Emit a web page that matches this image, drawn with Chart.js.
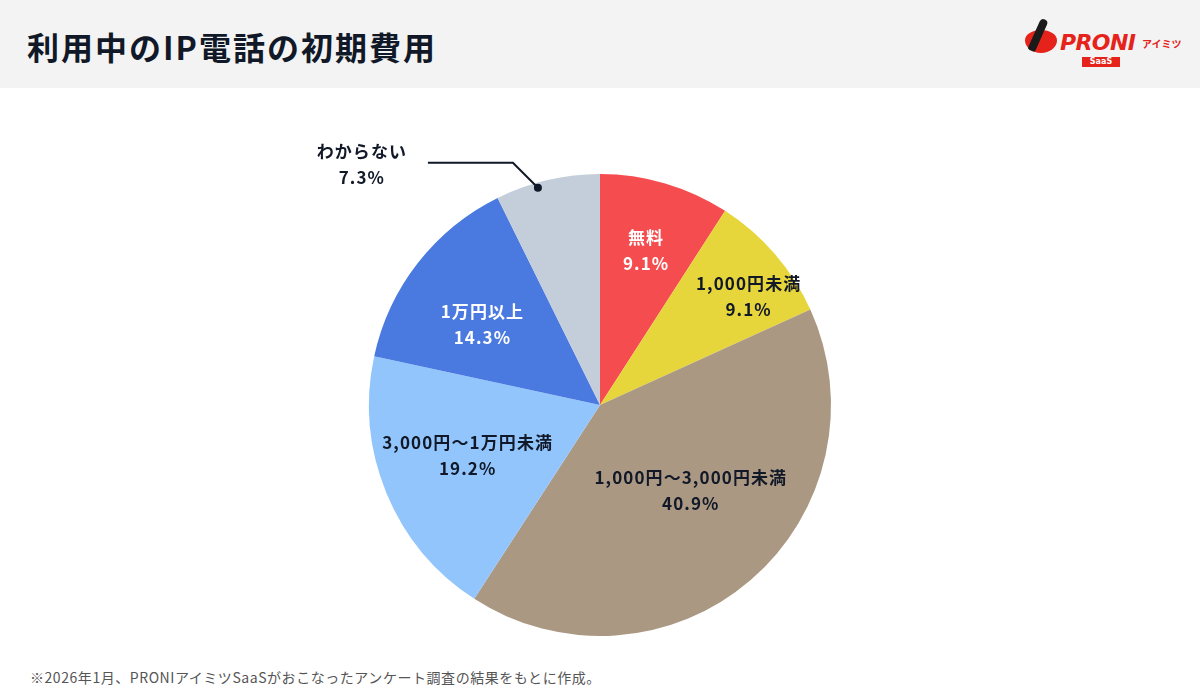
<!DOCTYPE html>
<html lang="ja">
<head>
<meta charset="UTF-8">
<title>利用中のIP電話の初期費用</title>
<script src="https://cdn.jsdelivr.net/npm/chart.js"></script>
<style>
  body { margin:0; width:1200px; height:700px; background:#fff; font-family:"Noto Sans CJK JP","Noto Sans",sans-serif; position:relative; overflow:hidden; }
  .header { position:absolute; left:0; top:0; width:1200px; height:88px; background:#f3f3f3; }
  .header h1 { position:absolute; left:27px; top:26px; margin:0; font-size:32px; line-height:40px; font-weight:700; color:#111827; letter-spacing:2px; white-space:nowrap; }
  .logo { position:absolute; left:1018px; top:18px; width:170px; height:52px; }
  .logo .icon { position:absolute; left:7px; top:12px; width:32px; height:23px; border-radius:50% 50% 50% 50% / 45% 45% 55% 55%; background:#e5231b; }
  .logo .bird { position:absolute; left:16px; top:0px; width:8px; height:34px; background:#1a1a1a; transform:rotate(24deg); border-radius:5px 5px 3px 3px; }
  .logo .proni { position:absolute; left:42px; top:14px; font-family:"DejaVu Sans",sans-serif; font-weight:700; font-style:italic; font-size:22px; color:#e5231b; letter-spacing:-0.6px; line-height:22px; white-space:nowrap; }
  .logo .aimitsu { position:absolute; left:124px; top:21px; font-size:10px; line-height:10px; font-weight:700; color:#e5231b; white-space:nowrap; }
  .logo .saas { position:absolute; left:64px; top:39px; width:38px; height:10px; background:#e5231b; color:#fff; font-family:"DejaVu Sans",sans-serif; font-size:8px; font-weight:700; text-align:center; line-height:10px; }
  .note { position:absolute; left:30px; top:667px; font-size:14px; letter-spacing:0.55px; color:#555; white-space:nowrap; }
  #wrap { position:absolute; left:0; top:0; width:1200px; height:700px; }
</style>
</head>
<body>
<div class="header">
  <h1>利用中のIP電話の初期費用</h1>
  <div class="logo">
    <div class="icon"></div>
    <div class="bird"></div>
    <div class="proni">PRONI</div>
    <div class="aimitsu">アイミツ</div>
    <div class="saas">SaaS</div>
  </div>
</div>
<div class="note">※2026年1月、PRONIアイミツSaaSがおこなったアンケート調査の結果をもとに作成。</div>
<div id="wrap"><canvas id="pie"></canvas></div>
<script>
const categories = ["無料", "1,000円未満", "1,000円〜3,000円未満", "3,000円〜1万円未満", "1万円以上", "わからない"]
const percents = [9.1, 9.1, 40.9, 19.2, 14.3, 7.3]
const colors = ["#f54d4f", "#e6d63c", "#ab9883", "#93c5fd", "#4a7ae0", "#c4ceda"]
const labelColors = ["#ffffff", "#111827", "#111827", "#111827", "#ffffff", "#111827"]
// label placement: fraction of radius and a small turn (degrees) off the slice middle
const labelRadius = [0.698, 0.796, 0.539, 0.613, 0.617, 0.978]
const labelTurn = [0.2, 4.75, -6.1, 1.6, -3.5, -2.8]
const outsideLabel = 5

const sliceLabels = {
  id: "sliceLabels",
  afterDatasetsDraw(chart) {
    const ctx = chart.ctx
    const arcs = chart.getDatasetMeta(0).data
    ctx.save()
    ctx.font = "700 17px 'Noto Sans CJK JP'"
    ctx.letterSpacing = "1.1px"
    ctx.textAlign = "center"
    ctx.textBaseline = "middle"
    arcs.forEach((arc, i) => {
      const p = arc.getProps(["x", "y", "startAngle", "endAngle", "outerRadius"], true)
      const a = (p.startAngle + p.endAngle) / 2 + labelTurn[i] * Math.PI / 180
      const r = p.outerRadius * labelRadius[i]
      const x = p.x + Math.cos(a) * r
      const y = p.y + Math.sin(a) * r
      const text = [categories[i], percents[i].toFixed(1) + "%"]
      ctx.fillStyle = labelColors[i]
      if (i !== outsideLabel) {
        ctx.fillText(text[0], x, y - 13)
        ctx.fillText(text[1], x, y + 13)
      } else {
        // outside label with leader line
        ctx.strokeStyle = "#111827"
        ctx.lineWidth = 2
        ctx.beginPath()
        ctx.moveTo(x, y)
        ctx.lineTo(x - 25, y - 25)
        ctx.lineTo(x - 110, y - 25)
        ctx.stroke()
        ctx.beginPath()
        ctx.arc(x, y, 4, 0, Math.PI * 2)
        ctx.fill()
        ctx.fillText(text[0], x - 176, y - 36)
        ctx.fillText(text[1], x - 176, y - 10)
      }
    })
    ctx.restore()
  }
}

new Chart(document.getElementById("pie"), {
  type: "pie",
  data: {
    labels: categories,
    datasets: [{
      data: percents,
      backgroundColor: colors,
      borderWidth: 0
    }]
  },
  options: {
    responsive: true,
    maintainAspectRatio: false,
    animation: false,
    layout: { padding: { top: 174, bottom: 64, left: 0, right: 0 } },
    plugins: {
      legend: { display: false },
      tooltip: { enabled: false }
    }
  },
  plugins: [sliceLabels]
})
</script>
</body>
</html>
